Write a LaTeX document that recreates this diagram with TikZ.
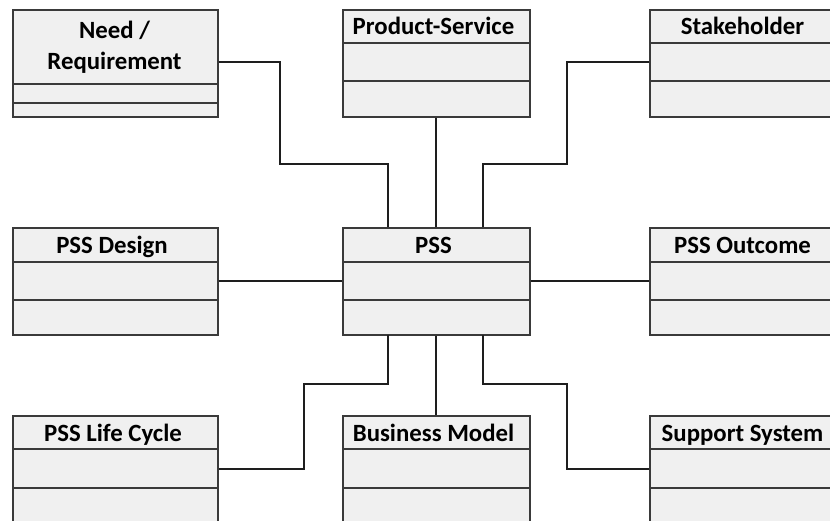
\documentclass[tikz,border=0pt]{standalone}
\usepackage{fontspec}
\setmainfont{Carlito}
\definecolor{boxfill}{HTML}{F0F0F0}
\definecolor{boxline}{HTML}{3A3A3A}
\definecolor{wirecol}{HTML}{1E1E1E}
\begin{document}
\begin{tikzpicture}[x=1pt,y=-1pt,
  cls/.style={draw=boxline, fill=boxfill, line width=1.6pt, inner sep=0pt,
              anchor=north west, minimum width=205pt, minimum height=107pt},
  clsw/.style={cls, minimum width=187pt},
  ttl/.style={font=\bfseries\fontsize{24.8}{31}\selectfont, align=center,
              text=black, anchor=base, inner sep=0pt},
  div/.style={draw=boxline, line width=1.6pt},
  wire/.style={draw=wirecol, line width=2.4pt}]
\useasboundingbox (0,0) rectangle (830,521);
\clip (0,0) rectangle (830,521);
\fill[white] (0,0) rectangle (830,521);

% ---------- boxes ----------
\node[cls]  (need) at (12,9) {};
\node[clsw] (prod) at (342,9) {};
\node[cls]  (stak) at (649,9) {};
\node[cls]  (desg) at (12,227) {};
\node[clsw] (pss)  at (342,227) {};
\node[cls]  (outc) at (649,227) {};
\node[cls]  (life) at (12,415) {};
\node[clsw] (busi) at (342,415) {};
\node[cls]  (supp) at (649,415) {};

% ---------- compartment dividers ----------
\foreach \b/\da/\db in {need/84/103, prod/43/81, stak/43/81,
                        desg/262/300, pss/262/300, outc/262/300,
                        life/449/488, busi/449/488, supp/449/488}{
  \draw[div] (\b.west |- 0,\da) -- (\b.east |- 0,\da);
  \draw[div] (\b.west |- 0,\db) -- (\b.east |- 0,\db);
}

% ---------- titles ----------
\node[ttl] (need-t1) at (114.5,38.5) {Need /};
\node[ttl] (need-t2) at (114.5,69.5) {Requirement};
\node[ttl] (prod-t) at (433.5,34.5) {Product-Service};
\node[ttl] (stak-t) at (742.5,34.5) {Stakeholder};
\node[ttl] (desg-t) at (112,253.5) {PSS Design};
\node[ttl] (pss-t)  at (433.5,253.5) {PSS};
\node[ttl] (outc-t) at (742.5,253.5) {PSS Outcome};
\node[ttl] (life-t) at (113,441.5) {PSS Life Cycle};
\node[ttl] (busi-t) at (433.5,441.5) {Business Model};
\node[ttl] (supp-t) at (742.5,441.5) {Support System};

% ---------- connectors ----------
\coordinate (pssA) at (388,227);
\coordinate (pssB) at (483,227);
\coordinate (pssC) at (388,335);
\coordinate (pssD) at (483,335);
\draw[wire] (need.east |- 0,62) -| (280,164) -| (pssA);
\draw[wire] ([xshift=-0.5pt]prod.south) -- ([xshift=-0.5pt]pss.north);
\draw[wire] (stak.west |- 0,62) -| (567,164) -| (pssB);
\draw[wire] (desg.east |- 0,281) -- (pss.west |- 0,281);
\draw[wire] (pss.east |- 0,281) -- (outc.west |- 0,281);
\draw[wire] (pssC) |- (304,384) |- (life.east |- 0,469);
\draw[wire] ([xshift=-0.5pt]pss.south) -- ([xshift=-0.5pt]busi.north);
\draw[wire] (pssD) |- (567,384) |- (supp.west |- 0,469);
\end{tikzpicture}
\end{document}
